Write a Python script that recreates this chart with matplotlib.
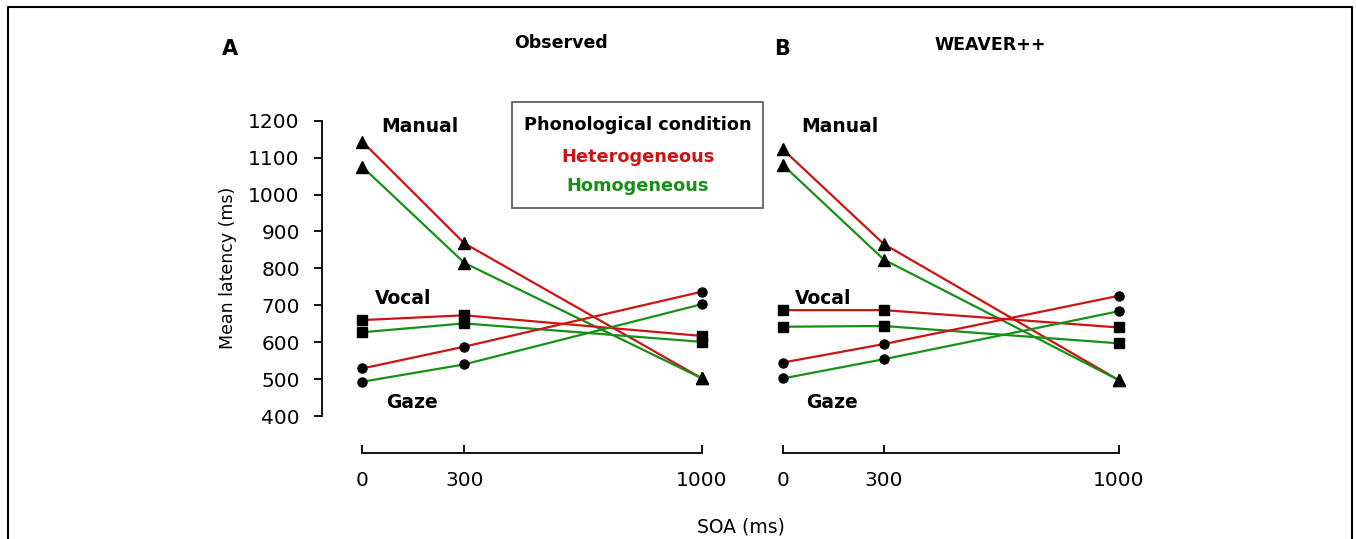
import matplotlib.pyplot as plt
from matplotlib.patches import Rectangle
from matplotlib.lines import Line2D

# SOA (ms)
soa = [0, 300, 1000]

# Observed (panel A)
obs_manual_het = [1143, 868, 502]
obs_manual_hom = [1075, 815, 502]
obs_vocal_het = [660, 673, 617]
obs_vocal_hom = [627, 651, 601]
obs_gaze_het = [529, 588, 737]
obs_gaze_hom = [493, 540, 703]

# WEAVER++ (panel B)
wea_manual_het = [1122, 866, 497]
wea_manual_hom = [1080, 824, 497]
wea_vocal_het = [687, 687, 640]
wea_vocal_hom = [642, 644, 597]
wea_gaze_het = [545, 595, 726]
wea_gaze_hom = [502, 554, 684]

RED = "#cc1414"
GREEN = "#169016"

W, H = 1356, 539
fig = plt.figure(figsize=(W / 100, H / 100), dpi=100)


def fx(x):
    return x / W


def fy(y):
    return 1 - y / H


top_px, bot_px = 120.7, 453
ax_a = fig.add_axes([fx(322), fy(bot_px), (702 - 322) / W, (bot_px - top_px) / H])
ax_b = fig.add_axes([fx(783), fy(bot_px), (1119 - 783) / W, (bot_px - top_px) / H])

panels = [
    (ax_a, [obs_manual_het, obs_manual_hom], [obs_vocal_het, obs_vocal_hom], [obs_gaze_het, obs_gaze_hom]),
    (ax_b, [wea_manual_het, wea_manual_hom], [wea_vocal_het, wea_vocal_hom], [wea_gaze_het, wea_gaze_hom]),
]

for ax, manual, vocal, gaze in panels:
    for series, marker, ms in [(manual, "^", 8.5), (vocal, "s", 6.5), (gaze, "o", 6.5)]:
        for vals, col in zip(series, [RED, GREEN]):
            ax.plot(soa, vals, color=col, lw=1.6, zorder=2, clip_on=False)
            ax.plot(soa, vals, ls="none", marker=marker, ms=ms, color="black", zorder=3, clip_on=False)

    ax.set_ylim(300, 1200)
    ax.spines["top"].set_visible(False)
    ax.spines["right"].set_visible(False)
    ax.spines["bottom"].set_bounds(0, 1000)
    ax.spines["bottom"].set_linewidth(1.3)
    ax.set_xticks(soa)
    ax.set_xticklabels([str(s) for s in soa])
    ax.tick_params(axis="x", direction="in", length=6, width=1.3, pad=13, labelsize=14.5)
    ax.patch.set_alpha(0)

ax_a.set_xlim(-119, 1000)
ax_b.set_xlim(0, 1000)

ax_a.spines["left"].set_bounds(400, 1200)
ax_a.spines["left"].set_linewidth(1.3)
ax_a.set_yticks(range(400, 1201, 100))
ax_a.tick_params(axis="y", direction="out", length=6, width=1.3, pad=10, labelsize=14.5)

ax_b.spines["left"].set_visible(False)
ax_b.set_yticks([])

# panel texts
fig.text(fx(230), fy(49), "A", fontsize=15, fontweight="bold", ha="center", va="center")
fig.text(fx(561), fy(43), "Observed", fontsize=12.5, fontweight="bold", ha="center", va="center")
fig.text(fx(782), fy(49), "B", fontsize=15, fontweight="bold", ha="center", va="center")
fig.text(fx(990), fy(45), "WEAVER++", fontsize=12.5, fontweight="bold", ha="center", va="center")

for off in [0, 420]:
    fig.text(fx(420 + off), fy(127), "Manual", fontsize=13.5, fontweight="bold", ha="center", va="center")
    fig.text(fx(403 + off), fy(298), "Vocal", fontsize=13.5, fontweight="bold", ha="center", va="center")
    fig.text(fx(412 + off), fy(402), "Gaze", fontsize=13.5, fontweight="bold", ha="center", va="center")

fig.text(fx(228), fy(268), "Mean latency (ms)", fontsize=12.5, rotation=90, ha="center", va="center")
fig.text(fx(741), fy(527), "SOA (ms)", fontsize=13.5, ha="center", va="center")

# legend box
fig.patches.append(Rectangle((fx(512), fy(208)), (763 - 512) / W, (208 - 102) / H,
                             transform=fig.transFigure, fill=False, edgecolor="#555555", lw=1.2))
fig.text(fx(638), fy(125), "Phonological condition", fontsize=12.8, fontweight="bold", ha="center", va="center")
fig.text(fx(638), fy(157), "Heterogeneous", fontsize=12.8, fontweight="bold", color=RED, ha="center", va="center")
fig.text(fx(638), fy(186), "Homogeneous", fontsize=12.8, fontweight="bold", color=GREEN, ha="center", va="center")

# outer frame
fig.lines.append(Line2D([fx(8), fx(8), fx(1352), fx(1352)], [0, fy(7), fy(7), 0],
                        transform=fig.transFigure, color="black", lw=1.5))

fig.savefig("out.png", dpi=100)
